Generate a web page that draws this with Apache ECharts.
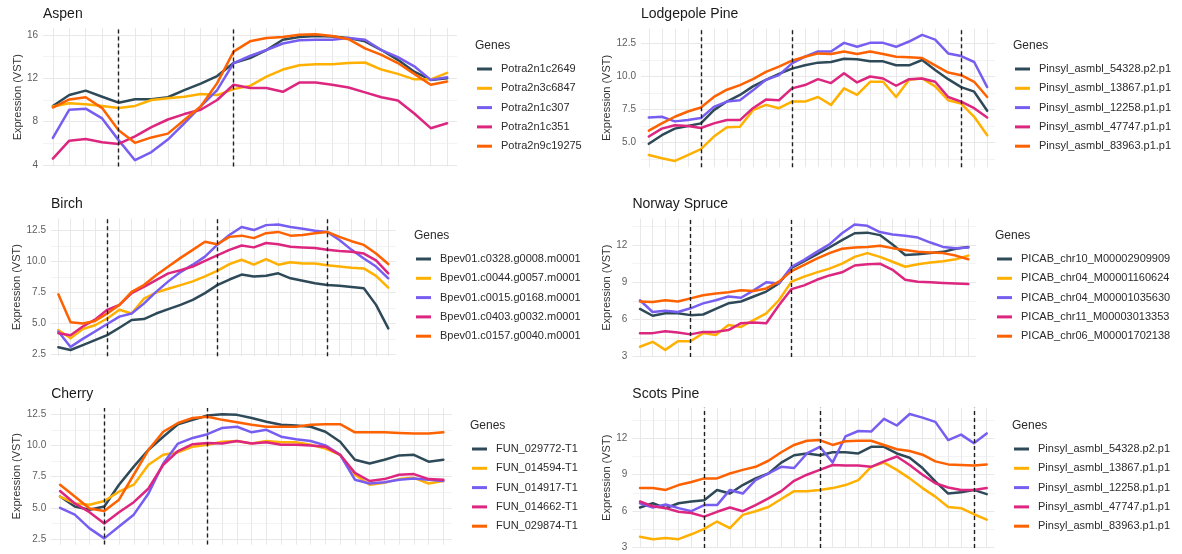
<!DOCTYPE html>
<html>
<head>
<meta charset="utf-8">
<script src="https://cdn.jsdelivr.net/npm/echarts@6/dist/echarts.min.js"></script>
<style>
  html, body { margin: 0; padding: 0; background: #ffffff; }
  #chart { width: 1182px; height: 554px; }
</style>
</head>
<body>
<div id="chart"></div>
<script>
// ---------- Aspen ----------
const aspenGenes = ['Potra2n1c2649', 'Potra2n3c6847', 'Potra2n1c307', 'Potra2n1c351', 'Potra2n9c19275'];
const aspenG1 = [9.45, 10.46, 10.86, 10.3, 9.75, 10.06, 10.06, 10.25, 10.9, 11.5, 12.2, 13.4, 13.85, 14.6, 15.55, 15.8, 15.9, 15.85, 15.7, 15.4, 14.6, 13.7, 12.6, 11.85, 12.0];
const aspenG2 = [9.4, 9.7, 9.6, 9.45, 9.25, 9.45, 10.0, 10.15, 10.3, 10.55, 10.45, 11.0, 11.3, 12.15, 12.8, 13.2, 13.3, 13.3, 13.4, 13.45, 12.8, 12.4, 11.9, 11.9, 12.5];
const aspenG3 = [6.5, 9.1, 9.2, 8.3, 6.3, 4.45, 5.2, 6.35, 7.85, 9.4, 10.9, 13.4, 14.05, 14.6, 15.2, 15.5, 15.55, 15.55, 15.7, 15.55, 14.6, 13.95, 13.1, 11.85, 12.1];
const aspenG4 = [4.6, 6.25, 6.4, 6.1, 5.95, 6.65, 7.5, 8.2, 8.7, 9.1, 10.0, 11.4, 11.1, 11.1, 10.75, 11.6, 11.6, 11.4, 11.15, 10.7, 10.25, 9.95, 8.75, 7.4, 7.85];
const aspenG5 = [9.3, 10.05, 10.25, 9.25, 7.2, 6.05, 6.55, 6.9, 8.15, 9.4, 11.55, 14.45, 15.4, 15.7, 15.8, 16.0, 16.05, 15.9, 15.6, 14.75, 14.15, 13.4, 12.4, 11.4, 11.7];
const aspenTicks = [4, 8, 12, 16];
const aspenStages = [4, 11];

// ---------- Lodgepole Pine ----------
const lodgeGenes = ['Pinsyl_asmbl_54328.p2.p1', 'Pinsyl_asmbl_13867.p1.p1', 'Pinsyl_asmbl_12258.p1.p1', 'Pinsyl_asmbl_47747.p1.p1', 'Pinsyl_asmbl_83963.p1.p1'];
const lodgeG1 = [4.9, 5.55, 6.05, 6.25, 6.45, 7.45, 8.1, 8.6, 9.25, 9.75, 10.2, 10.6, 10.85, 11.05, 11.1, 11.35, 11.3, 11.15, 11.15, 10.85, 10.85, 11.25, 10.5, 9.8, 9.2, 8.85, 7.4];
const lodgeG2 = [4.05, 3.8, 3.6, 4.05, 4.5, 5.45, 6.15, 6.2, 7.45, 7.85, 7.6, 8.1, 8.1, 8.45, 7.85, 9.1, 8.6, 9.6, 9.6, 8.45, 9.75, 9.85, 9.25, 8.2, 7.95, 6.95, 5.55];
const lodgeG3 = [6.9, 6.95, 6.6, 6.7, 6.85, 7.7, 8.1, 8.2, 8.95, 9.75, 10.1, 11.0, 11.5, 11.9, 11.9, 12.55, 12.25, 12.55, 12.55, 12.25, 12.65, 13.15, 12.8, 11.75, 11.55, 11.1, 9.2];
const lodgeG4 = [5.45, 6.05, 6.3, 6.25, 6.1, 6.45, 6.7, 6.7, 7.6, 8.25, 8.2, 9.1, 9.35, 9.8, 9.5, 10.25, 9.55, 10.0, 9.85, 9.3, 9.8, 9.85, 9.6, 8.45, 8.1, 7.6, 6.9];
const lodgeG5 = [5.9, 6.45, 6.95, 7.35, 7.65, 8.45, 9.0, 9.35, 9.8, 10.35, 10.75, 11.2, 11.5, 11.75, 11.7, 11.9, 11.7, 11.9, 11.7, 11.5, 11.45, 11.4, 10.85, 10.3, 10.1, 9.6, 8.45];
const lodgeTicks = [5, 7.5, 10, 12.5];
const lodgeStages = [4, 11, 24];

// ---------- Birch ----------
const birchGenes = ['Bpev01.c0328.g0008.m0001', 'Bpev01.c0044.g0057.m0001', 'Bpev01.c0015.g0168.m0001', 'Bpev01.c0403.g0032.m0001', 'Bpev01.c0157.g0040.m0001'];
const birchG1 = [3.07, 2.85, 3.25, 3.65, 4.05, 4.65, 5.28, 5.35, 5.8, 6.15, 6.5, 6.9, 7.45, 8.1, 8.55, 8.95, 8.8, 8.85, 9.05, 8.65, 8.45, 8.25, 8.1, 8.05, 7.95, 7.85, 6.5, 4.6];
const birchG2 = [4.47, 3.8, 4.55, 4.85, 5.4, 6.1, 5.8, 7.0, 7.5, 7.8, 8.1, 8.4, 8.8, 9.25, 9.8, 10.15, 9.75, 10.2, 9.75, 9.95, 9.85, 9.85, 9.7, 9.6, 9.5, 9.45, 8.85, 7.9];
const birchG3 = [4.35, 3.1, 3.75, 4.35, 4.95, 5.55, 5.8, 6.6, 7.55, 8.4, 9.15, 9.75, 10.4, 11.35, 12.15, 12.8, 12.55, 12.95, 13.0, 12.8, 12.65, 12.5, 12.4, 11.75, 10.95, 10.25, 9.6, 8.65];
const birchG4 = [4.2, 4.05, 4.75, 5.3, 6.1, 6.5, 7.45, 7.95, 8.5, 9.05, 9.3, 9.6, 10.05, 10.5, 10.95, 11.3, 11.15, 11.5, 11.4, 11.2, 11.15, 11.1, 10.95, 10.85, 10.8, 10.65, 10.1, 9.05];
const birchG5 = [7.35, 5.1, 5.0, 5.2, 5.8, 6.5, 7.55, 8.1, 8.9, 9.6, 10.3, 10.95, 11.6, 11.4, 12.0, 12.1, 11.9, 12.3, 12.4, 12.1, 12.15, 12.3, 12.4, 12.0, 11.65, 11.35, 10.65, 9.8];
const birchTicks = [2.5, 5, 7.5, 10, 12.5];
const birchStages = [4, 13, 22];

// ---------- Norway Spruce ----------
const spruceGenes = ['PICAB_chr10_M00002909909', 'PICAB_chr04_M00001160624', 'PICAB_chr04_M00001035630', 'PICAB_chr11_M00003013353', 'PICAB_chr06_M00001702138'];
const spruceG1 = [6.85, 6.3, 6.5, 6.5, 6.35, 6.4, 6.85, 7.3, 7.45, 7.85, 8.25, 8.9, 10.15, 10.7, 11.25, 11.8, 12.4, 12.95, 13.0, 12.8, 12.05, 11.2, 11.25, 11.35, 11.45, 11.7, 11.85];
const spruceG2 = [3.8, 4.2, 3.55, 4.25, 4.25, 4.9, 4.75, 5.55, 5.4, 5.95, 6.5, 7.55, 9.05, 9.45, 9.8, 10.1, 10.5, 11.05, 11.35, 11.05, 10.65, 10.25, 10.45, 10.6, 10.7, 10.85, 11.15];
const spruceG3 = [7.55, 6.6, 6.7, 6.6, 6.9, 7.3, 7.55, 7.85, 7.75, 8.35, 9.0, 8.9, 10.25, 10.8, 11.45, 12.05, 12.95, 13.65, 13.55, 13.05, 12.85, 12.75, 12.6, 12.2, 11.85, 11.75, 11.8];
const spruceG4 = [4.9, 4.9, 5.05, 4.95, 4.8, 5.0, 5.0, 5.15, 5.7, 5.75, 5.7, 7.15, 8.45, 8.75, 9.2, 9.55, 9.8, 10.35, 10.45, 10.5, 10.0, 9.2, 9.05, 9.0, 8.95, 8.9, 8.85];
const spruceG5 = [7.45, 7.4, 7.55, 7.45, 7.7, 7.95, 8.1, 8.2, 8.35, 8.3, 8.5, 9.05, 9.9, 10.4, 10.9, 11.35, 11.7, 11.8, 11.85, 11.95, 11.75, 11.6, 11.45, 11.4, 11.35, 11.15, 10.85];
const spruceTicks = [3, 6, 9, 12];
const spruceStages = [4, 12];

// ---------- Cherry ----------
const cherryGenes = ['FUN_029772-T1', 'FUN_014594-T1', 'FUN_014917-T1', 'FUN_014662-T1', 'FUN_029874-T1'];
const cherryG1 = [5.9, 5.1, 4.85, 5.1, 6.85, 8.3, 9.65, 10.7, 11.7, 12.05, 12.4, 12.5, 12.45, 12.2, 11.9, 11.65, 11.6, 11.5, 11.1, 10.3, 8.85, 8.55, 8.85, 9.2, 9.25, 8.7, 8.85];
const cherryG2 = [5.9, 5.35, 5.25, 5.55, 6.3, 6.85, 8.45, 9.25, 9.45, 9.9, 10.05, 10.3, 10.35, 10.15, 10.35, 10.25, 10.25, 10.05, 9.75, 9.25, 7.65, 6.85, 7.0, 7.3, 7.4, 6.95, 7.15];
const cherryG3 = [5.0, 4.45, 3.35, 2.55, 3.5, 4.45, 6.15, 8.55, 10.15, 10.6, 10.9, 11.4, 11.5, 11.05, 11.25, 10.7, 10.5, 10.35, 10.0, 9.25, 7.25, 6.95, 7.05, 7.25, 7.35, 7.25, 7.15];
const cherryG4 = [6.35, 5.35, 4.65, 3.75, 4.65, 5.45, 6.55, 8.45, 9.55, 10.1, 10.2, 10.15, 10.35, 10.15, 10.25, 10.05, 10.05, 10.0, 9.9, 9.25, 7.8, 7.15, 7.3, 7.65, 7.7, 7.3, 7.25];
const cherryG5 = [6.85, 5.9, 4.95, 4.75, 5.65, 7.65, 9.65, 11.1, 11.8, 12.2, 12.3, 12.05, 11.85, 11.65, 11.5, 11.5, 11.5, 11.65, 11.7, 11.7, 11.05, 11.05, 11.05, 11.0, 10.95, 10.95, 11.05];
const cherryTicks = [2.5, 5, 7.5, 10, 12.5];
const cherryStages = [3, 10];

// ---------- Scots Pine ----------
const scotsGenes = ['Pinsyl_asmbl_54328.p2.p1', 'Pinsyl_asmbl_13867.p1.p1', 'Pinsyl_asmbl_12258.p1.p1', 'Pinsyl_asmbl_47747.p1.p1', 'Pinsyl_asmbl_83963.p1.p1'];
const scotsG1 = [6.3, 6.65, 6.25, 6.65, 6.8, 6.9, 7.75, 7.45, 8.15, 8.7, 9.1, 10.0, 10.6, 10.75, 10.6, 10.85, 10.85, 10.75, 11.3, 11.3, 10.75, 10.4, 9.55, 8.45, 7.45, 7.55, 7.75, 7.4];
const scotsG2 = [3.9, 3.7, 3.8, 3.7, 4.1, 4.55, 5.15, 4.6, 5.7, 6.0, 6.35, 7.0, 7.65, 7.65, 7.75, 7.9, 8.15, 8.55, 9.65, 10.0, 9.4, 8.7, 7.9, 7.2, 6.35, 6.25, 5.75, 5.3];
const scotsG3 = [6.65, 6.3, 6.55, 6.25, 6.0, 6.5, 6.5, 7.75, 7.45, 8.55, 9.1, 9.65, 9.55, 10.75, 11.3, 10.0, 12.15, 12.6, 12.55, 13.6, 13.05, 14.0, 13.7, 13.35, 11.85, 12.3, 11.6, 12.4];
const scotsG4 = [6.8, 6.4, 6.25, 5.95, 5.85, 5.55, 5.95, 6.3, 6.0, 6.5, 7.05, 7.65, 8.5, 9.0, 9.4, 9.8, 9.75, 9.75, 9.65, 10.1, 10.5, 9.8, 9.0, 8.3, 7.95, 7.75, 7.75, 7.9];
const scotsG5 = [7.9, 7.9, 7.75, 8.15, 8.4, 8.7, 8.7, 9.1, 9.4, 9.65, 10.15, 10.85, 11.45, 11.8, 11.85, 11.45, 11.75, 11.8, 11.8, 11.45, 11.1, 10.95, 10.65, 10.1, 9.85, 9.8, 9.75, 9.85];
const scotsTicks = [3, 6, 9, 12];
const scotsStages = [5, 14, 26];

// ---------- styling ----------
const COLORS = ['#2E4A59', '#FFB000', '#785EF0', '#DC267F', '#FE6100'];
const FONT = '"Liberation Sans", Arial, Helvetica, sans-serif';
const GRID_MAJOR = '#e8e8e8';
const GRID_MINOR = '#f3f3f3';

// Panel layout: plot rectangle, y extent, label decimals and legend anchor.
const panels = [
  { title: 'Aspen', genes: aspenGenes, values: [aspenG1, aspenG2, aspenG3, aspenG4, aspenG5], ticks: aspenTicks, stages: aspenStages,
    decimals: 0, box: { left: 43, top: 28, width: 414, height: 138.5 }, yMin: 3.87, yMax: 16.63, nameGap: 20, legendX: 475, genesY: 40 },
  { title: 'Lodgepole Pine', genes: lodgeGenes, values: [lodgeG1, lodgeG2, lodgeG3, lodgeG4, lodgeG5], ticks: lodgeTicks, stages: lodgeStages,
    decimals: 1, box: { left: 641, top: 28.6, width: 354, height: 138.7 }, yMin: 3.12, yMax: 13.63, nameGap: 27, legendX: 1013, genesY: 40 },
  { title: 'Birch', genes: birchGenes, values: [birchG1, birchG2, birchG3, birchG4, birchG5], ticks: birchTicks, stages: birchStages,
    decimals: 1, box: { left: 51, top: 218.2, width: 344.6, height: 138.1 }, yMin: 2.34, yMax: 13.51, nameGap: 27, legendX: 414, genesY: 230 },
  { title: 'Norway Spruce', genes: spruceGenes, values: [spruceG1, spruceG2, spruceG3, spruceG4, spruceG5], ticks: spruceTicks, stages: spruceStages,
    decimals: 0, box: { left: 632.4, top: 218.3, width: 343.5, height: 138.65 }, yMin: 2.98, yMax: 14.155, nameGap: 19.5, legendX: 995, genesY: 230 },
  { title: 'Cherry', genes: cherryGenes, values: [cherryG1, cherryG2, cherryG3, cherryG4, cherryG5], ticks: cherryTicks, stages: cherryStages,
    decimals: 1, box: { left: 51.2, top: 408, width: 401, height: 136.6 }, yMin: 2.05, yMax: 13.0, nameGap: 27, legendX: 470, genesY: 420 },
  { title: 'Scots Pine', genes: scotsGenes, values: [scotsG1, scotsG2, scotsG3, scotsG4, scotsG5], ticks: scotsTicks, stages: scotsStages,
    decimals: 0, box: { left: 632.3, top: 407.7, width: 362.1, height: 140.2 }, yMin: 2.98, yMax: 14.515, nameGap: 19, legendX: 1012, genesY: 420 }
];

function minorValues(ticks, lo, hi) {
  const step = ticks[1] - ticks[0];
  const out = [];
  for (let v = ticks[0] - step / 2; v <= hi; v += step) {
    if (v >= lo) out.push(v);
  }
  return out;
}

const grid = [], xAxis = [], yAxis = [], series = [], title = [], legend = [];

panels.forEach((p, pi) => {
  const n = p.values[0].length;
  const idx = Array.from({ length: n }, (_, i) => i);

  grid.push({ left: p.box.left, top: p.box.top, width: p.box.width, height: p.box.height, containLabel: false });

  xAxis.push({
    type: 'value', gridIndex: pi, min: -0.6, max: n - 1 + 0.6,
    axisLine: { show: false },
    axisTick: { show: false, customValues: idx },
    axisLabel: { show: false },
    splitLine: { show: true, lineStyle: { color: GRID_MAJOR, width: 1 } }
  });

  // major y axis: labels, name and major grid lines
  yAxis.push({
    type: 'value', gridIndex: pi, min: p.yMin, max: p.yMax,
    name: 'Expression (VST)', nameLocation: 'middle', nameGap: p.nameGap,
    nameTextStyle: { fontFamily: FONT, fontSize: 11, color: '#333333' },
    axisLine: { show: false },
    axisTick: { show: false, customValues: p.ticks },
    axisLabel: {
      show: true, customValues: p.ticks, margin: 5,
      fontFamily: FONT, fontSize: 10, color: '#5e5e5e',
      formatter: v => Number(v).toFixed(p.decimals)
    },
    splitLine: { show: true, lineStyle: { color: GRID_MAJOR, width: 1 } },
    z: 1
  });
  // minor y axis: lighter grid lines between the labelled ones
  yAxis.push({
    type: 'value', gridIndex: pi, min: p.yMin, max: p.yMax,
    axisLine: { show: false },
    axisTick: { show: false, customValues: minorValues(p.ticks, p.yMin, p.yMax) },
    axisLabel: { show: false },
    splitLine: { show: true, lineStyle: { color: GRID_MINOR, width: 1 } },
    z: 0
  });

  p.values.forEach((vals, si) => {
    const s = {
      type: 'line', name: p.genes[si],
      xAxisIndex: pi, yAxisIndex: pi * 2,
      data: vals.map((v, i) => [i, v]),
      showSymbol: false, symbol: 'none',
      lineStyle: { color: COLORS[si], width: 2.5, join: 'round', cap: 'round' },
      itemStyle: { color: COLORS[si] },
      emphasis: { disabled: true },
      silent: true, animation: false, z: 3
    };
    if (si === p.values.length - 1) {
      s.markLine = {
        silent: true, symbol: ['none', 'none'], animation: false,
        label: { show: false },
        lineStyle: { color: '#1f1f1f', type: [4, 3], width: 1.4 },
        emphasis: { disabled: true },
        data: p.stages.map(x => ({ xAxis: x }))
      };
    }
    series.push(s);
  });

  title.push({
    text: p.title, left: p.box.left, top: p.box.top - 21, padding: 0,
    textStyle: { fontFamily: FONT, fontSize: 14, fontWeight: 'normal', color: '#1a1a1a' }
  });
  title.push({
    text: 'Genes', left: p.legendX, top: p.genesY, padding: 0,
    textStyle: { fontFamily: FONT, fontSize: 12, fontWeight: 'normal', color: '#2b2b2b' }
  });

  legend.push({
    data: p.genes, orient: 'vertical', left: p.legendX + 2, top: p.genesY + 22.5,
    padding: 0, itemGap: 6.3, itemWidth: 15, itemHeight: 3, icon: 'rect',
    selectedMode: false,
    textStyle: { fontFamily: FONT, fontSize: 11, color: '#2b2b2b', lineHeight: 13, padding: [0, 0, 0, 4] }
  });
});

const chart = echarts.init(document.getElementById('chart'), null, { renderer: 'canvas' });
chart.setOption({
  backgroundColor: '#ffffff',
  animation: false,
  title, legend, grid, xAxis, yAxis, series
});
</script>
</body>
</html>
